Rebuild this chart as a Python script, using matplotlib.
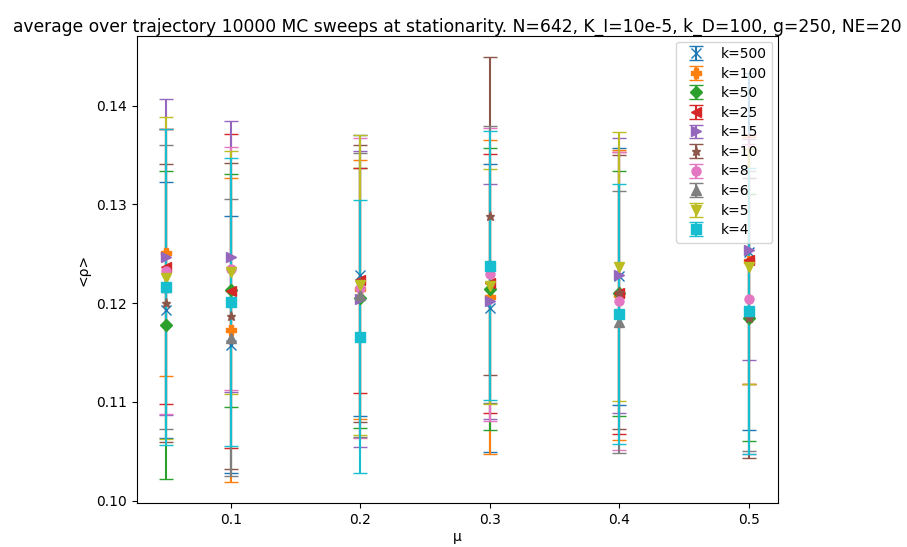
import matplotlib
matplotlib.use("Agg")
import matplotlib.pyplot as plt

mu = [0.05, 0.1, 0.2, 0.3, 0.4, 0.5]
k_labels = ["k=500", "k=100", "k=50", "k=25", "k=15", "k=10", "k=8", "k=6", "k=5", "k=4"]
markers = ["x", "P", "D", "<", ">", "*", "o", "^", "v", "s"]

rho_k500 = [0.1193, 0.1158, 0.1228, 0.1195, 0.1227, 0.1252]
err_k500 = [0.0130, 0.0130, 0.0142, 0.0146, 0.0130, 0.0181]
rho_k100 = [0.1251, 0.1173, 0.1214, 0.1206, 0.1208, 0.1243]
err_k100 = [0.0125, 0.0154, 0.0131, 0.0159, 0.0147, 0.0125]
rho_k50 = [0.1178, 0.1213, 0.1205, 0.1214, 0.1210, 0.1185]
err_k50 = [0.0156, 0.0118, 0.0132, 0.0143, 0.0124, 0.0125]
rho_k25 = [0.1237, 0.1212, 0.1223, 0.1220, 0.1210, 0.1244]
err_k25 = [0.0139, 0.0159, 0.0114, 0.0131, 0.0143, 0.0126]
rho_k15 = [0.1247, 0.1247, 0.1204, 0.1202, 0.1228, 0.1254]
err_k15 = [0.0160, 0.0137, 0.0150, 0.0119, 0.0139, 0.0112]
rho_k10 = [0.1200, 0.1187, 0.1220, 0.1288, 0.1211, 0.1185]
err_k10 = [0.0141, 0.0155, 0.0140, 0.0161, 0.0139, 0.0142]
rho_k8 = [0.1232, 0.1235, 0.1215, 0.1229, 0.1202, 0.1204]
err_k8 = [0.0144, 0.0123, 0.0152, 0.0148, 0.0151, 0.0157]
rho_k6 = [0.1216, 0.1165, 0.1208, 0.1239, 0.1181, 0.1192]
err_k6 = [0.0144, 0.0140, 0.0144, 0.0140, 0.0133, 0.0142]
rho_k5 = [0.1225, 0.1231, 0.1218, 0.1217, 0.1237, 0.1237]
err_k5 = [0.0163, 0.0123, 0.0152, 0.0119, 0.0136, 0.0119]
rho_k4 = [0.1216, 0.1201, 0.1166, 0.1238, 0.1189, 0.1192]
err_k4 = [0.0160, 0.0146, 0.0138, 0.0136, 0.0132, 0.0145]

rhos = [rho_k500, rho_k100, rho_k50, rho_k25, rho_k15, rho_k10, rho_k8, rho_k6, rho_k5, rho_k4]
errs = [err_k500, err_k100, err_k50, err_k25, err_k15, err_k10, err_k8, err_k6, err_k5, err_k4]

dpi = 100
fig = plt.figure(figsize=(907 / dpi, 547 / dpi), dpi=dpi)
ax = fig.add_axes([137 / 907, 1 - 503 / 547, (778 - 137) / 907, (503 - 36) / 547])

for lab, mk, r, e in zip(k_labels, markers, rhos, errs):
    ax.errorbar(mu, r, yerr=e, fmt=mk, markersize=6.5, capsize=5, elinewidth=1.5, label=lab)

ax.set_xlabel("μ", labelpad=2)
ax.set_ylabel("<ρ>")
ax.set_title("average over trajectory 10000 MC sweeps at stationarity. N=642, K_I=10e-5, k_D=100, g=250, NE=20",
             fontsize=12.35, pad=3)
ax.legend(loc="upper right", labelspacing=0.4, borderaxespad=0.4)

fig.savefig("out.png", dpi=dpi)
